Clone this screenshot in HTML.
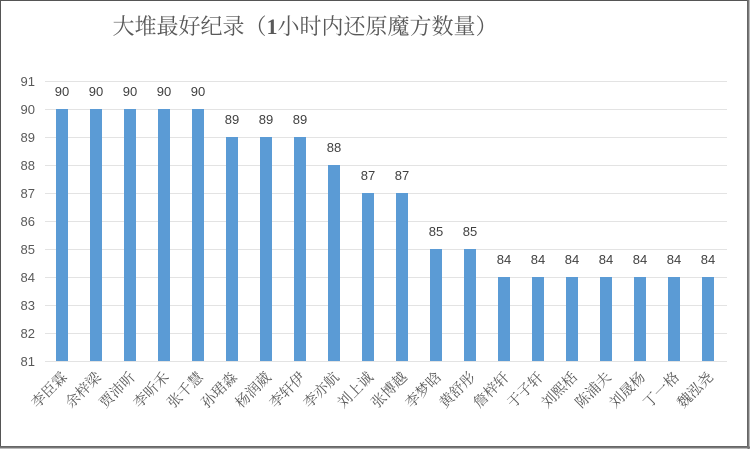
<!DOCTYPE html>
<html><head><meta charset="utf-8"><style>
body{margin:0;background:#fff}
</style></head><body>
<svg width="750" height="449" xmlns="http://www.w3.org/2000/svg">
<rect x="0.5" y="0.5" width="747" height="446" fill="#fff" stroke="#555" stroke-width="1"/>
<line x1="0" y1="447.5" x2="750" y2="447.5" stroke="#777" stroke-width="2"/>
<line x1="748.5" y1="0" x2="748.5" y2="449" stroke="#777" stroke-width="2"/>
<text x="305" y="34" text-anchor="middle" font-family="'Liberation Serif','Noto Serif CJK SC',serif" font-size="22" fill="#595959">大堆最好纪录（<tspan font-weight="bold">1</tspan>小时内还原魔方数量）</text>
<g stroke="#e3e3e3" stroke-width="1">
<line x1="45" x2="727" y1="81.5" y2="81.5"/><line x1="45" x2="727" y1="109.5" y2="109.5"/>
<line x1="45" x2="727" y1="137.5" y2="137.5"/><line x1="45" x2="727" y1="165.5" y2="165.5"/>
<line x1="45" x2="727" y1="193.5" y2="193.5"/><line x1="45" x2="727" y1="221.5" y2="221.5"/>
<line x1="45" x2="727" y1="249.5" y2="249.5"/><line x1="45" x2="727" y1="277.5" y2="277.5"/>
<line x1="45" x2="727" y1="305.5" y2="305.5"/><line x1="45" x2="727" y1="333.5" y2="333.5"/>
<line x1="45" x2="727" y1="361.5" y2="361.5"/>
</g>
<g font-family="'Liberation Sans',sans-serif" font-size="13" fill="#595959" text-anchor="end">
<text x="35" y="86">91</text><text x="35" y="114">90</text><text x="35" y="142">89</text>
<text x="35" y="170">88</text><text x="35" y="198">87</text><text x="35" y="226">86</text>
<text x="35" y="254">85</text><text x="35" y="282">84</text><text x="35" y="310">83</text>
<text x="35" y="338">82</text><text x="35" y="366">81</text>
</g>
<g fill="#5b9bd5">
<rect x="56" y="109" width="12" height="252"/><rect x="90" y="109" width="12" height="252"/>
<rect x="124" y="109" width="12" height="252"/><rect x="158" y="109" width="12" height="252"/>
<rect x="192" y="109" width="12" height="252"/><rect x="226" y="137" width="12" height="224"/>
<rect x="260" y="137" width="12" height="224"/><rect x="294" y="137" width="12" height="224"/>
<rect x="328" y="165" width="12" height="196"/><rect x="362" y="193" width="12" height="168"/>
<rect x="396" y="193" width="12" height="168"/><rect x="430" y="249" width="12" height="112"/>
<rect x="464" y="249" width="12" height="112"/><rect x="498" y="277" width="12" height="84"/>
<rect x="532" y="277" width="12" height="84"/><rect x="566" y="277" width="12" height="84"/>
<rect x="600" y="277" width="12" height="84"/><rect x="634" y="277" width="12" height="84"/>
<rect x="668" y="277" width="12" height="84"/><rect x="702" y="277" width="12" height="84"/>
</g>
<g font-family="'Liberation Sans',sans-serif" font-size="13" fill="#404040" text-anchor="middle">
<text x="62" y="96">90</text><text x="96" y="96">90</text><text x="130" y="96">90</text>
<text x="164" y="96">90</text><text x="198" y="96">90</text><text x="232" y="124">89</text>
<text x="266" y="124">89</text><text x="300" y="124">89</text><text x="334" y="152">88</text>
<text x="368" y="180">87</text><text x="402" y="180">87</text><text x="436" y="236">85</text>
<text x="470" y="236">85</text><text x="504" y="264">84</text><text x="538" y="264">84</text>
<text x="572" y="264">84</text><text x="606" y="264">84</text><text x="640" y="264">84</text>
<text x="674" y="264">84</text><text x="708" y="264">84</text>
</g>
<g font-family="'Liberation Serif','Noto Serif CJK SC',serif" font-size="14.5" fill="#595959" text-anchor="end">
<text x="68" y="378" transform="rotate(-45 68 378)">李臣霖</text>
<text x="102" y="378" transform="rotate(-45 102 378)">余梓梁</text>
<text x="136" y="378" transform="rotate(-45 136 378)">贾沛昕</text>
<text x="170" y="378" transform="rotate(-45 170 378)">李昕禾</text>
<text x="204" y="378" transform="rotate(-45 204 378)">张千慧</text>
<text x="238" y="378" transform="rotate(-45 238 378)">孙珺淼</text>
<text x="272" y="378" transform="rotate(-45 272 378)">杨润葳</text>
<text x="306" y="378" transform="rotate(-45 306 378)">李轩伊</text>
<text x="340" y="378" transform="rotate(-45 340 378)">李亦航</text>
<text x="374" y="378" transform="rotate(-45 374 378)">刘上诚</text>
<text x="408" y="378" transform="rotate(-45 408 378)">张博越</text>
<text x="442" y="378" transform="rotate(-45 442 378)">李梦晗</text>
<text x="476" y="378" transform="rotate(-45 476 378)">黄舒彤</text>
<text x="510" y="378" transform="rotate(-45 510 378)">詹梓轩</text>
<text x="544" y="378" transform="rotate(-45 544 378)">于子轩</text>
<text x="578" y="378" transform="rotate(-45 578 378)">刘熙栝</text>
<text x="612" y="378" transform="rotate(-45 612 378)">陈浦夫</text>
<text x="646" y="378" transform="rotate(-45 646 378)">刘晟杨</text>
<text x="680" y="378" transform="rotate(-45 680 378)">丁一格</text>
<text x="714" y="378" transform="rotate(-45 714 378)">魏泓尧</text>
</g>
</svg>
</body></html>
